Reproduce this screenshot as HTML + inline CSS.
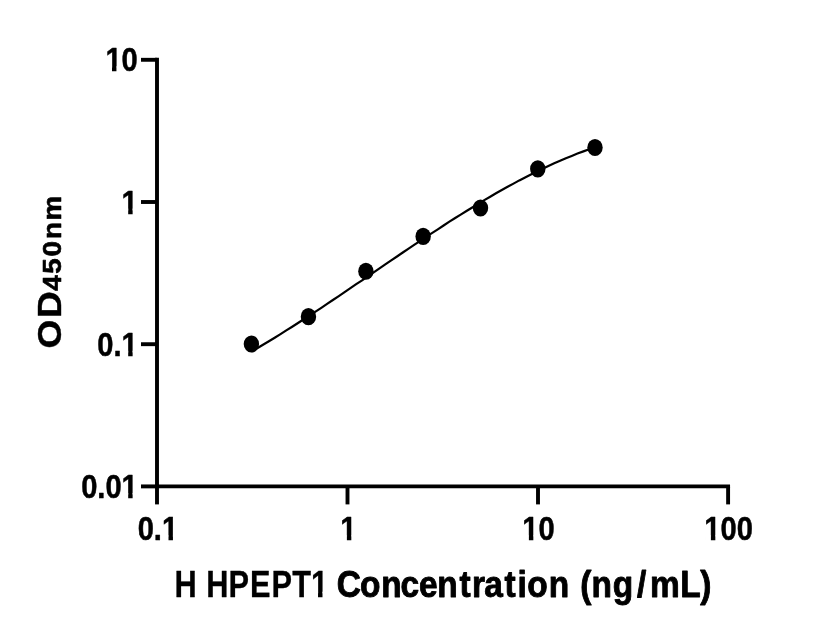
<!DOCTYPE html><html><head><meta charset="utf-8"><title>H HPEPT1 standard curve</title>
<style>html,body{margin:0;padding:0;background:#fff}svg{display:block}text{font-family:"Liberation Sans",sans-serif;font-weight:bold;fill:#000}</style></head><body>
<svg width="816" height="640" viewBox="0 0 816 640">
<rect width="816" height="640" fill="#fff"/>
<g transform="translate(105.43,71.30) scale(0.8899,1)"><text font-size="32.7" stroke="#000" stroke-width="0.5" stroke-linejoin="round">10</text><rect x="0.80" y="-4.94" width="6.58" height="6.54" fill="#fff"/><rect x="12.37" y="-4.94" width="6.39" height="6.54" fill="#fff"/></g>
<g transform="translate(121.62,213.50) scale(0.8899,1)"><text font-size="32.7" stroke="#000" stroke-width="0.5" stroke-linejoin="round">1</text><rect x="0.80" y="-4.94" width="6.58" height="6.54" fill="#fff"/><rect x="12.37" y="-4.94" width="6.39" height="6.54" fill="#fff"/></g>
<g transform="translate(97.35,355.70) scale(0.8899,1)"><text font-size="32.7" stroke="#000" stroke-width="0.5" stroke-linejoin="round">0.1</text><rect x="28.07" y="-4.94" width="6.58" height="6.54" fill="#fff"/><rect x="39.64" y="-4.94" width="6.39" height="6.54" fill="#fff"/></g>
<g transform="translate(81.16,497.90) scale(0.8899,1)"><text font-size="32.7" stroke="#000" stroke-width="0.5" stroke-linejoin="round">0.01</text><rect x="46.26" y="-4.94" width="6.58" height="6.54" fill="#fff"/><rect x="57.83" y="-4.94" width="6.39" height="6.54" fill="#fff"/></g>
<g transform="translate(137.67,540.40) scale(0.8899,1)"><text font-size="32.7" stroke="#000" stroke-width="0.5" stroke-linejoin="round">0.1</text><rect x="28.07" y="-4.94" width="6.58" height="6.54" fill="#fff"/><rect x="39.64" y="-4.94" width="6.39" height="6.54" fill="#fff"/></g>
<g transform="translate(340.31,540.40) scale(0.8899,1)"><text font-size="32.7" stroke="#000" stroke-width="0.5" stroke-linejoin="round">1</text><rect x="0.80" y="-4.94" width="6.58" height="6.54" fill="#fff"/><rect x="12.37" y="-4.94" width="6.39" height="6.54" fill="#fff"/></g>
<g transform="translate(522.32,540.40) scale(0.8899,1)"><text font-size="32.7" stroke="#000" stroke-width="0.5" stroke-linejoin="round">10</text><rect x="0.80" y="-4.94" width="6.58" height="6.54" fill="#fff"/><rect x="12.37" y="-4.94" width="6.39" height="6.54" fill="#fff"/></g>
<g transform="translate(704.32,540.40) scale(0.8899,1)"><text font-size="32.7" stroke="#000" stroke-width="0.5" stroke-linejoin="round">100</text><rect x="0.80" y="-4.94" width="6.58" height="6.54" fill="#fff"/><rect x="12.37" y="-4.94" width="6.39" height="6.54" fill="#fff"/></g>
<g transform="translate(176.00,597.00) scale(0.85,1)"><text font-size="36.2" x="-1.71 24.43 35.58 61.86 87.01 112.45 136.76 158.78" y="0" stroke="#000" stroke-width="0.3" stroke-linejoin="round">H HPEPT1</text><rect x="159.66" y="-5.29" width="7.42" height="6.89" fill="#fff"/><rect x="172.34" y="-5.29" width="7.20" height="6.89" fill="#fff"/></g>
<g transform="translate(339.00,596.70) scale(0.92,1)"><text font-size="36.4" x="-2.36 22.74 45.99 66.93 86.91 106.75 130.90 144.44 157.98 179.97 193.98 204.64 227.89 250.12 262.13 274.52 297.51 323.80 338.15 370.83 392.57" y="0" stroke="#000" stroke-width="0.9" stroke-linejoin="round">Concentration (ng/mL)</text></g>
<g transform="translate(60.75,347.00) rotate(-90) scale(1.095,1)"><text font-size="33.9" x="-1.39 26.38 51.26 67.01 82.77 98.56 115.64" y="0" stroke="#000" stroke-width="0.4" stroke-linejoin="round">OD<tspan font-size="25.4" stroke-width="0.6">450nm</tspan></text></g>
<g stroke="#000" stroke-width="3.9" fill="none" stroke-linecap="butt">
<path d="M157.0,57.849999999999994 V486.4 H730.0500000000001"/>
<path d="M141,59.8 H157.0"/>
<path d="M141,202.0 H157.0"/>
<path d="M141,344.2 H157.0"/>
<path d="M141,486.4 H157.0"/>
<path d="M157.0,486.4 V504.4"/>
<path d="M347.5,486.4 V504.4"/>
<path d="M538.0,486.4 V504.4"/>
<path d="M728.1,486.4 V504.4"/>
</g>
<path d="M251.4,351.6 L257.2,348.2 L263.0,344.7 L268.9,341.2 L274.7,337.7 L280.5,334.1 L286.3,330.4 L292.2,326.7 L298.0,323.0 L303.8,319.3 L309.6,315.5 L315.5,311.6 L321.3,307.8 L327.1,303.9 L332.9,300.0 L338.8,296.1 L344.6,292.1 L350.4,288.2 L356.2,284.2 L362.1,280.3 L367.9,276.3 L373.7,272.3 L379.5,268.4 L385.3,264.4 L391.2,260.4 L397.0,256.5 L402.8,252.5 L408.6,248.6 L414.5,244.7 L420.3,240.8 L426.1,236.9 L431.9,233.1 L437.8,229.3 L443.6,225.5 L449.4,221.7 L455.2,218.0 L461.1,214.4 L466.9,210.7 L472.7,207.2 L478.5,203.6 L484.3,200.1 L490.2,196.7 L496.0,193.3 L501.8,190.0 L507.6,186.8 L513.5,183.6 L519.3,180.4 L525.1,177.4 L530.9,174.4 L536.8,171.5 L542.6,168.7 L548.4,166.0 L554.2,163.3 L560.1,160.7 L565.9,158.2 L571.7,155.9 L577.5,153.6 L583.4,151.4 L589.2,149.3 L595.0,147.3" fill="none" stroke="#000" stroke-width="2.2" stroke-linejoin="round"/>
<ellipse cx="251.4" cy="344.0" rx="7.7" ry="8.6" fill="#000"/>
<ellipse cx="308.45" cy="316.65" rx="7.7" ry="8.6" fill="#000"/>
<ellipse cx="365.9" cy="271.25" rx="7.7" ry="8.6" fill="#000"/>
<ellipse cx="423.15" cy="236.45" rx="7.7" ry="8.6" fill="#000"/>
<ellipse cx="480.5" cy="208.0" rx="7.7" ry="8.6" fill="#000"/>
<ellipse cx="537.8" cy="168.9" rx="7.7" ry="8.6" fill="#000"/>
<ellipse cx="595.0" cy="147.5" rx="7.7" ry="8.6" fill="#000"/>
</svg></body></html>
